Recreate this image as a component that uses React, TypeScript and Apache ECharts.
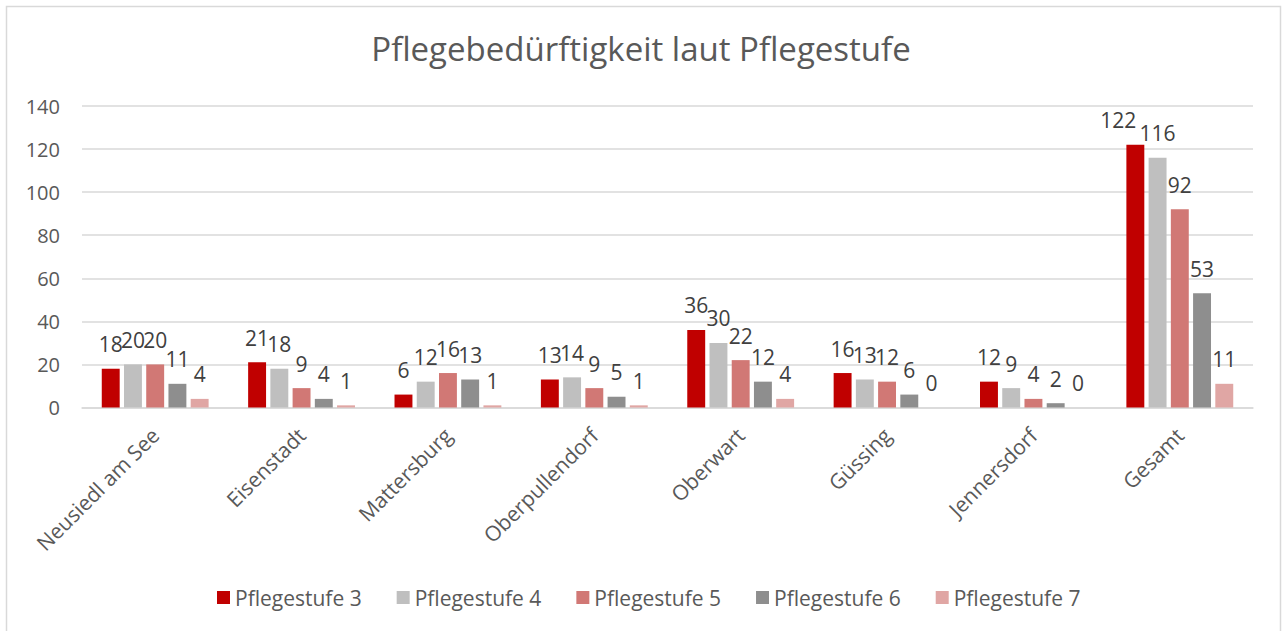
import React, { useEffect, useRef } from "react";
import * as echarts from "echarts";

const categories = [
  "Neusiedl am See",
  "Eisenstadt",
  "Mattersburg",
  "Oberpullendorf",
  "Oberwart",
  "Güssing",
  "Jennersdorf",
  "Gesamt",
];

const seriesNames = [
  "Pflegestufe 3",
  "Pflegestufe 4",
  "Pflegestufe 5",
  "Pflegestufe 6",
  "Pflegestufe 7",
];

const stufe3 = [18, 21, 6, 13, 36, 16, 12, 122];
const stufe4 = [20, 18, 12, 14, 30, 13, 9, 116];
const stufe5 = [20, 9, 16, 9, 22, 12, 4, 92];
const stufe6 = [11, 4, 13, 5, 12, 6, 2, 53];
const stufe7 = [4, 1, 1, 1, 4, 0, 0, 11];

const yTicks = { min: 0, max: 140, interval: 20 };

const colors = ["#C00000", "#BFBFBF", "#D17875", "#8E8E8E", "#E0A6A4"];

const FONT = "'Open Sans', sans-serif";

export default function App() {
  const ref = useRef<HTMLDivElement>(null);

  useEffect(() => {
    document.body.style.margin = "0";
    if (!ref.current) return;
    const chart = echarts.init(ref.current, undefined, { renderer: "svg" });
    const allSeries = [stufe3, stufe4, stufe5, stufe6, stufe7];
    const maxIdx = (arr: number[]) => arr.indexOf(Math.max(...arr));

    chart.setOption({
      animation: false,
      backgroundColor: "#ffffff",
      textStyle: { fontFamily: FONT },
      graphic: [
        {
          type: "rect",
          shape: { x: 6.5, y: 6.5, width: 1274, height: 700 },
          style: { fill: "none", stroke: "#D9D9D9", lineWidth: 1.5 },
          silent: true,
        },
      ],
      title: {
        text: "Pflegebedürftigkeit laut Pflegestufe",
        left: "center",
        top: 32,
        padding: 0,
        textStyle: {
          fontFamily: FONT,
          fontSize: 33,
          fontWeight: "normal",
          color: "#595959",
        },
      },
      legend: {
        data: seriesNames,
        left: 212,
        top: 582,
        itemWidth: 13,
        itemHeight: 13,
        itemGap: 35,
        icon: "rect",
        textStyle: { fontFamily: FONT, fontSize: 21, color: "#595959" },
      },
      grid: { left: 82, right: 29, top: 106, bottom: 223.5, containLabel: false },
      xAxis: {
        type: "category",
        data: categories,
        axisLine: { lineStyle: { color: "#D9D9D9", width: 1.5 } },
        axisTick: { show: false },
        axisLabel: {
          rotate: 45,
          interval: 0,
          margin: 24,
          fontFamily: FONT,
          fontSize: 21,
          color: "#595959",
        },
      },
      yAxis: {
        type: "value",
        min: yTicks.min,
        max: yTicks.max,
        interval: yTicks.interval,
        axisLine: { show: false },
        axisTick: { show: false },
        splitLine: { lineStyle: { color: "#D9D9D9", width: 1.5 } },
        axisLabel: {
          margin: 22,
          fontFamily: FONT,
          fontSize: 20,
          color: "#595959",
        },
      },
      series: allSeries.map((vals, si) => ({
        name: seriesNames[si],
        type: "bar",
        barGap: "24%",
        barCategoryGap: "27%",
        itemStyle: { color: colors[si] },
        label: {
          show: true,
          position: "top",
          distance: 14,
          fontFamily: FONT,
          fontSize: 21,
          color: "#404040",
        },
        data: vals.map((v, i) =>
          si === 0 && i === maxIdx(vals)
            ? { value: v, label: { offset: [-17, 0] } }
            : v
        ),
      })),
    });
    return () => chart.dispose();
  }, []);

  return (
    <div
      ref={ref}
      style={{ position: "absolute", left: 0, top: 0, width: 1282, height: 631 }}
    />
  );
}
